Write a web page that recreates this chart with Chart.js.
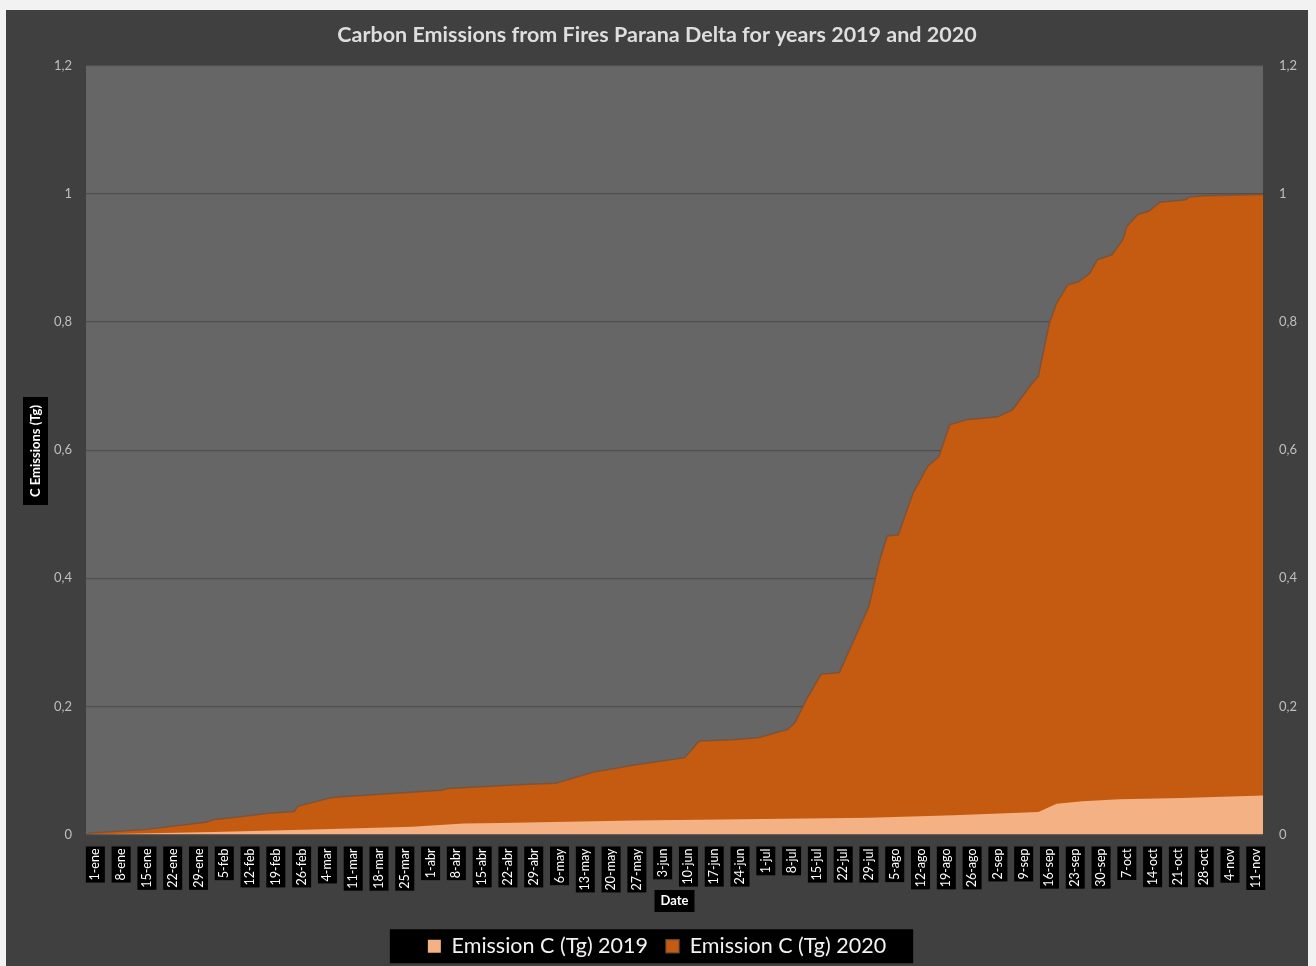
<!DOCTYPE html>
<html>
<head>
<meta charset="utf-8">
<script src="https://cdn.jsdelivr.net/npm/chart.js@4.4.1/dist/chart.umd.min.js"></script>
<style>
  html, body { margin: 0; padding: 0; background: #f2f2f2; overflow: hidden; }
  #wrap { position: absolute; left: 6px; top: 10px; width: 1302px; height: 957px; }
</style>
</head>
<body>
<div id="wrap"><canvas id="emissionsChart" width="1302" height="957"></canvas></div>
<script>
// tick labels on the date axis, one every 7 days starting 1-ene (2020)
const tickLabels = ['1-ene', '8-ene', '15-ene', '22-ene', '29-ene', '5-feb', '12-feb', '19-feb', '26-feb',
    '4-mar', '11-mar', '18-mar', '25-mar', '1-abr', '8-abr', '15-abr', '22-abr', '29-abr',
    '6-may', '13-may', '20-may', '27-may', '3-jun', '10-jun', '17-jun', '24-jun', '1-jul', '8-jul',
    '15-jul', '22-jul', '29-jul', '5-ago', '12-ago', '19-ago', '26-ago', '2-sep', '9-sep', '16-sep',
    '23-sep', '30-sep', '7-oct', '14-oct', '21-oct', '28-oct', '4-nov', '11-nov'];

// day of year (0 = 1-ene) and cumulative emission (Tg)
const days2019 = [0, 34, 61, 88, 102, 112, 148, 195, 212, 235, 258, 263, 270, 280, 297, 319];
const emission2019 = [0, 0.004, 0.008, 0.012, 0.017, 0.018, 0.022, 0.025, 0.026, 0.030, 0.035, 0.048, 0.052, 0.055, 0.057, 0.061];

const days2020 = [0, 16, 32, 34, 42, 49, 56, 57, 65, 67, 96, 98, 118, 127, 137, 148, 162, 166, 175, 182,
    190, 192, 195, 199, 204, 208, 212, 215, 217, 220, 224, 228, 231, 234, 239, 247, 251, 256, 258,
    261, 263, 266, 269, 272, 274, 278, 281, 282, 285, 288, 291, 298, 299, 303, 319];
const emission2020 = [0.002, 0.008, 0.019, 0.023, 0.028, 0.033, 0.036, 0.044, 0.056, 0.058, 0.069, 0.072, 0.078, 0.080, 0.097, 0.108, 0.120, 0.146, 0.148, 0.151,
    0.164, 0.175, 0.210, 0.250, 0.253, 0.304, 0.356, 0.429, 0.466, 0.468, 0.533, 0.575, 0.590, 0.640, 0.648, 0.652, 0.663, 0.702, 0.715,
    0.798, 0.830, 0.858, 0.863, 0.876, 0.897, 0.905, 0.929, 0.949, 0.968, 0.973, 0.987, 0.991, 0.995, 0.997, 0.999];

const seriesNames = ['Emission C (Tg) 2019', 'Emission C (Tg) 2020'];

const tickDays = tickLabels.map((_, i) => i * 7);
const toPoints = (xs, ys) => xs.map((d, i) => ({ x: d, y: ys[i] }));
const decimalComma = v => String(Math.round(v * 10) / 10).replace('.', ',');

Chart.defaults.font.family = 'Lato, "Open Sans", sans-serif';

// dark backgrounds, plot area and black boxes behind legend / axis titles
const excelLook = {
    id: 'excelLook',
    beforeDraw(chart) {
        const { ctx, chartArea: a, width, height } = chart;
        ctx.save();
        ctx.fillStyle = '#404040';
        ctx.fillRect(0, 0, width, height);
        ctx.fillStyle = '#666666';
        ctx.fillRect(a.left, a.top, a.right - a.left, a.bottom - a.top);

        const hb = chart.legend.legendHitBoxes;
        if (hb && hb.length) {
            const l = Math.min(...hb.map(b => b.left));
            const r = Math.max(...hb.map(b => b.left + b.width));
            const mid = hb[0].top + hb[0].height / 2;
            ctx.fillStyle = '#000';
            ctx.fillRect(l - 38, mid - 17, r - l + 65, 34);
        }
        ctx.restore();
    },
    afterDraw(chart) {
        const { ctx, chartArea: a } = chart;
        ctx.save();
        ctx.font = 'bold 13px Lato, "Open Sans", sans-serif';
        ctx.textAlign = 'center';
        ctx.textBaseline = 'middle';

        // y axis title
        const yText = 'C Emissions (Tg)';
        const yw = ctx.measureText(yText).width;
        ctx.translate(29, 441);
        ctx.rotate(-Math.PI / 2);
        ctx.fillStyle = '#000';
        ctx.fillRect(-yw / 2 - 8, -12, yw + 16, 25);
        ctx.fillStyle = '#ffffff';
        ctx.fillText(yText, 0, 1);
        ctx.setTransform(1, 0, 0, 1, 0, 0);

        // x axis title
        const xText = 'Date';
        const xw = ctx.measureText(xText).width;
        const cx = (a.left + a.right) / 2;
        ctx.fillStyle = '#000';
        ctx.fillRect(cx - xw / 2 - 6, 880, xw + 12, 22);
        ctx.fillStyle = '#ffffff';
        ctx.fillText(xText, cx, 891);
        ctx.restore();
    }
};

const ctx = document.getElementById('emissionsChart').getContext('2d');

const emissionsChart = new Chart(ctx, {
    type: 'line',
    data: {
        datasets: [
            {
                label: seriesNames[0],
                data: toPoints(days2019, emission2019),
                backgroundColor: '#F4B183',
                borderColor: '#F4B183',
                borderWidth: 0,
                fill: 'origin',
                tension: 0,
                pointRadius: 0,
            },
            {
                label: seriesNames[1],
                data: toPoints(days2020, emission2020),
                backgroundColor: '#C55A11',
                borderColor: 'rgba(120, 80, 55, 0.8)',
                borderWidth: 1.5,
                fill: 'origin',
                tension: 0,
                pointRadius: 0,
            }
        ]
    },
    options: {
        responsive: false,
        animation: false,
        events: [],
        layout: { padding: 0 },
        scales: {
            x: {
                type: 'linear',
                min: -0.5,
                max: 319,
                grid: { display: false },
                border: { display: false },
                afterBuildTicks: s => { s.ticks = tickDays.map(v => ({ value: v })); },
                afterFit: s => { s.height = 83; },
                ticks: {
                    autoSkip: false,
                    minRotation: 90,
                    maxRotation: 90,
                    padding: 6,
                    color: '#ffffff',
                    font: { size: 12.5 },
                    showLabelBackdrop: true,
                    backdropColor: '#000000',
                    backdropPadding: { x: 2, y: 2 },
                    callback: (v, i) => tickLabels[i]
                }
            },
            y: {
                position: 'left',
                min: 0,
                max: 1.2,
                afterFit: s => { s.width = 80; },
                border: { display: false },
                grid: { color: '#4f4f4f', lineWidth: 1.2, drawTicks: false },
                ticks: {
                    stepSize: 0.2,
                    padding: 14,
                    color: '#bfbfbf',
                    font: { size: 13 },
                    callback: decimalComma
                }
            },
            y2: {
                position: 'right',
                min: 0,
                max: 1.2,
                afterFit: s => { s.width = 45; },
                border: { display: false },
                grid: { drawOnChartArea: false, drawTicks: false },
                ticks: {
                    stepSize: 0.2,
                    padding: 16,
                    color: '#bfbfbf',
                    font: { size: 13 },
                    callback: decimalComma
                }
            }
        },
        plugins: {
            title: {
                display: true,
                text: 'Carbon Emissions from Fires Parana Delta for years 2019 and 2020',
                color: '#dedede',
                font: { size: 21.5, weight: 'bold', lineHeight: 1.2 },
                padding: { top: 12, bottom: 18 }
            },
            legend: {
                display: true,
                position: 'bottom',
                labels: {
                    color: '#f2f2f2',
                    font: { size: 21.5 },
                    boxWidth: 13,
                    boxHeight: 13,
                    padding: 18
                }
            },
            tooltip: { enabled: false }
        }
    },
    plugins: [excelLook]
});
</script>
</body>
</html>
